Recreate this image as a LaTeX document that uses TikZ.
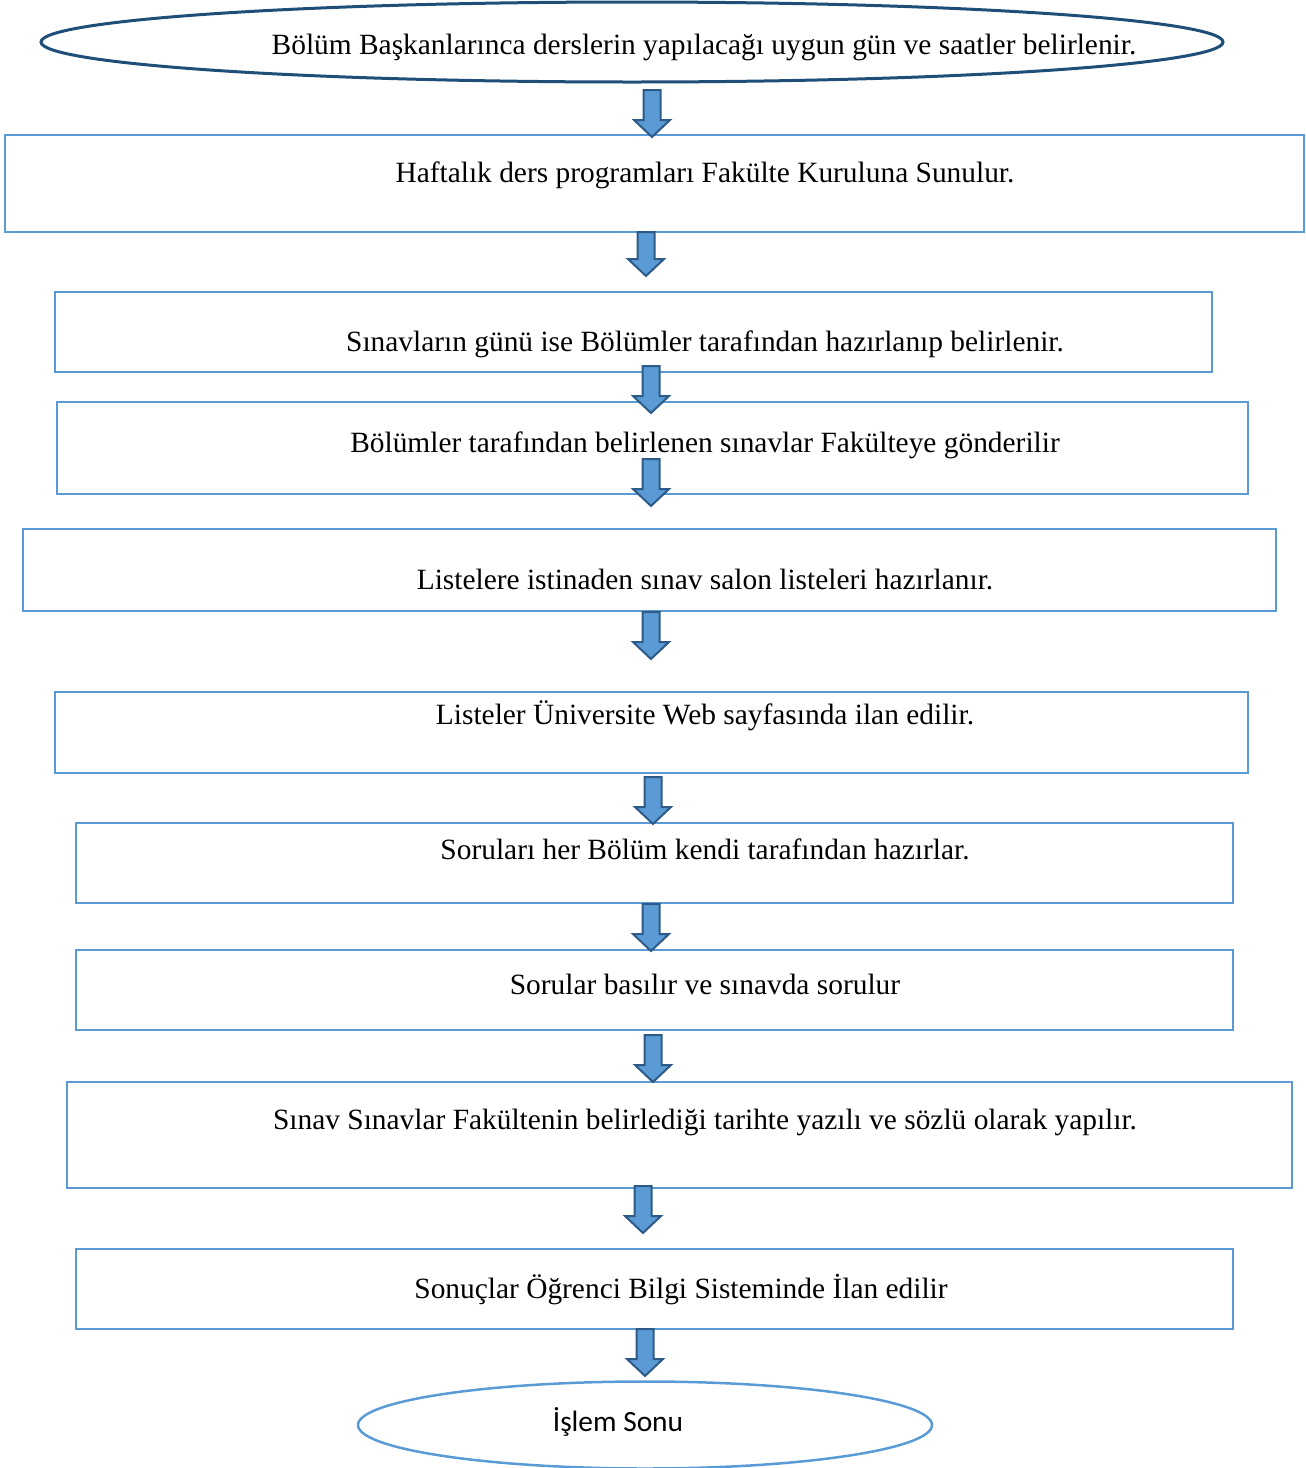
\documentclass[tikz,border=0pt]{standalone}
\usepackage{fontspec}
\setmainfont{Liberation Serif}
\newfontfamily\calibrilike{Carlito}
\usetikzlibrary{calc}
\definecolor{boxblue}{HTML}{5B9BD5}
\definecolor{navy}{HTML}{1F4E79}
\definecolor{arrowedge}{HTML}{2E5A88}
\tikzset{
  stepbox/.style={draw=boxblue, line width=2pt},
  startoval/.style={draw=navy, line width=3pt},
  endoval/.style={draw=boxblue, line width=2.5pt},
  steptext/.style={inner sep=0pt, font=\fontsize{29.4}{34}\selectfont, anchor=base},
  barrow/.style={fill=boxblue, draw=arrowedge, line width=2pt, line join=miter},
}
% block arrow from a named top point down to a named tip
\newcommand\blockarrow[2]{%
  \draw[barrow] let \p1=(#1), \p2=(#2) in
    (\x1-8.5pt,\y1) -- (\x1+8.5pt,\y1) -- (\x1+8.5pt,\y2+17pt) -- (\x1+18pt,\y2+17pt)
    -- (\x1,\y2) -- (\x1-18pt,\y2+17pt) -- (\x1-8.5pt,\y2+17pt) -- cycle;}
\begin{document}
\begin{tikzpicture}[x=1pt,y=-1pt]
\useasboundingbox (0,0) rectangle (1306,1468);
\clip (0,0) rectangle (1306,1468);

% start oval
\draw[startoval] (632,42) ellipse [x radius=591, y radius=40];
\node[steptext] (t1) at (704,54) {Bölüm Başkanlarınca derslerin yapılacağı uygun gün ve saatler belirlenir.};

% process boxes
\draw[stepbox] (5,135) rectangle (1304,232);
\node[steptext] (t2) at (705,182) {Haftalık ders programları Fakülte Kuruluna Sunulur.};

\draw[stepbox] (55,292) rectangle (1212,372);
\node[steptext] (t3) at (705,351) {Sınavların günü ise Bölümler tarafından hazırlanıp belirlenir.};

\draw[stepbox] (57,402) rectangle (1248,494);
\node[steptext] (t4) at (705,452) {Bölümler tarafından belirlenen sınavlar Fakülteye gönderilir};

\draw[stepbox] (23,529) rectangle (1276,611);
\node[steptext] (t5) at (705,589) {Listelere istinaden sınav salon listeleri hazırlanır.};

\draw[stepbox] (55,692) rectangle (1248,773);
\node[steptext] (t6) at (705,724) {Listeler Üniversite Web sayfasında ilan edilir.};

\draw[stepbox] (76,823) rectangle (1233,903);
\node[steptext] (t7) at (705,859) {Soruları her Bölüm kendi tarafından hazırlar.};

\draw[stepbox] (76,950) rectangle (1233,1030);
\node[steptext] (t8) at (705,994) {Sorular basılır ve sınavda sorulur};

\draw[stepbox] (67,1082) rectangle (1292,1188);
\node[steptext] (t9) at (705,1129) {Sınav Sınavlar Fakültenin belirlediği tarihte yazılı ve sözlü olarak yapılır.};

\draw[stepbox] (76,1249) rectangle (1233,1329);
\node[steptext] (t10) at (681,1298) {Sonuçlar Öğrenci Bilgi Sisteminde İlan edilir};

% end oval, its lower edge runs off the page
\draw[endoval] (645,1425) ellipse [x radius=287, y radius=43.5];
\node[inner sep=0pt, font=\calibrilike\fontsize{29.4}{34}\selectfont, anchor=base] (t11) at (618,1431) {İşlem Sonu};

% arrow end points
\coordinate (a1s) at (652,90);   \coordinate (a1e) at (652,137);
\coordinate (a2s) at (646,232);  \coordinate (a2e) at (646,276);
\coordinate (a3s) at (651,366);  \coordinate (a3e) at (651,413);
\coordinate (a4s) at (651,459);  \coordinate (a4e) at (651,506);
\coordinate (a5s) at (651,612);  \coordinate (a5e) at (651,659);
\coordinate (a6s) at (653,777);  \coordinate (a6e) at (653,824);
\coordinate (a7s) at (651,904);  \coordinate (a7e) at (651,951);
\coordinate (a8s) at (653,1035); \coordinate (a8e) at (653,1082);
\coordinate (a9s) at (643,1186); \coordinate (a9e) at (643,1233);
\coordinate (a10s) at (645,1329); \coordinate (a10e) at (645,1376);

\blockarrow{a1s}{a1e}
\blockarrow{a2s}{a2e}
\blockarrow{a3s}{a3e}
\blockarrow{a4s}{a4e}
\blockarrow{a5s}{a5e}
\blockarrow{a6s}{a6e}
\blockarrow{a7s}{a7e}
\blockarrow{a8s}{a8e}
\blockarrow{a9s}{a9e}
\blockarrow{a10s}{a10e}
\end{tikzpicture}
\end{document}
